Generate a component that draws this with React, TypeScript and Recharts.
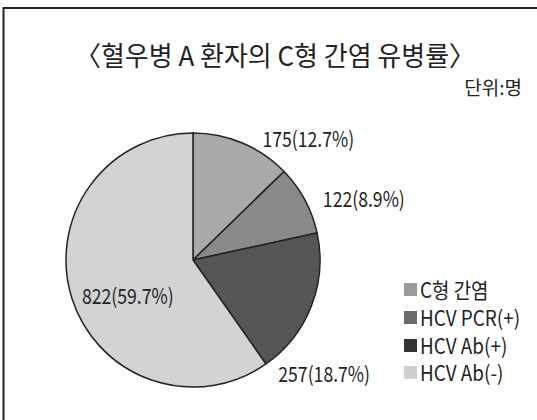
import React from 'react';
import { PieChart, Pie, Cell } from 'recharts';

const NAMES = ['C형 간염', 'HCV PCR(+)', 'HCV Ab(+)', 'HCV Ab(-)'];
const COUNTS = [175, 122, 257, 822];
const PIE_COLORS = ['#a9a9ab', '#88898b', '#555557', '#d2d3d5'];
const LEGEND_COLORS = ['#9a9a9a', '#6b6b6b', '#333333', '#cfcfcf'];

// label placement relative to the slice's outer mid point
const LABEL_NUDGE = [
  { dx: 20, dy: -5 },
  { dx: 18, dy: -2 },
  { dx: -33, dy: 67 },
  { dx: 10, dy: -3 },
];

const FONT = "'Noto Sans CJK KR', 'Noto Sans', sans-serif";
const RADIAN = Math.PI / 180;
const total = COUNTS.reduce((a, b) => a + b, 0);

const data = NAMES.map((name, i) => ({ name, value: COUNTS[i] }));

const renderLabel = (props: any) => {
  const { cx, cy, midAngle, outerRadius, index, value } = props;
  const x0 = cx + outerRadius * Math.cos(-midAngle * RADIAN);
  const y0 = cy + outerRadius * Math.sin(-midAngle * RADIAN);
  const n = LABEL_NUDGE[index];
  const pct = ((value / total) * 100).toFixed(1);
  return (
    <text
      transform={`translate(${x0 + n.dx},${y0 + n.dy}) scale(0.84,1)`}
      x={0}
      y={0}
      textAnchor="start"
      dominantBaseline="central"
      fontFamily={FONT}
      fontSize={21}
      fill="#222"
    >
      {`${value}(${pct}%)`}
    </text>
  );
};

export default function App() {
  return (
    <div style={{ position: 'absolute', left: 0, top: 0, width: 537, height: 420, background: '#fff' }}>
      <PieChart width={537} height={420} margin={{ top: 0, right: 0, bottom: 0, left: 0 }}>
        <Pie
          data={data}
          dataKey="value"
          nameKey="name"
          cx={193}
          cy={260}
          outerRadius={127}
          startAngle={90}
          endAngle={-270}
          stroke="#222"
          strokeWidth={1.5}
          label={renderLabel}
          labelLine={false}
          isAnimationActive={false}
        >
          {data.map((d, i) => (
            <Cell key={d.name} fill={PIE_COLORS[i]} />
          ))}
        </Pie>
      </PieChart>
      <div
        style={{
          position: 'absolute',
          left: 404,
          top: 276,
          fontFamily: FONT,
          fontSize: 21,
          color: '#222',
        }}
      >
        {NAMES.map((name, i) => (
          <div key={name} style={{ display: 'flex', alignItems: 'center', height: 27.7 }}>
            <span
              style={{
                display: 'inline-block',
                width: 13,
                height: 13,
                background: LEGEND_COLORS[i],
                marginRight: 3,
                flex: 'none',
              }}
            />
            <span
              style={{
                lineHeight: 1,
                display: 'inline-block',
                whiteSpace: 'nowrap',
                transform: 'scaleX(0.9)',
                transformOrigin: 'left center',
              }}
            >
              {name}
            </span>
          </div>
        ))}
      </div>
      <svg
        width={537}
        height={420}
        style={{ position: 'absolute', left: 0, top: 0, pointerEvents: 'none' }}
      >
        <polyline points="3.5,420 3.5,8 537,8" fill="none" stroke="#222" strokeWidth={2} />
        <text
          x={75}
          y={66}
          fontFamily={FONT}
          fontSize={27}
          fill="#222"
          textLength={400}
          lengthAdjust="spacingAndGlyphs"
        >
          〈혈우병 A 환자의 C형 간염 유병률〉
        </text>
        <text x={522} y={95} textAnchor="end" fontFamily={FONT} fontSize={19} fill="#222">
          단위:명
        </text>
      </svg>
    </div>
  );
}
